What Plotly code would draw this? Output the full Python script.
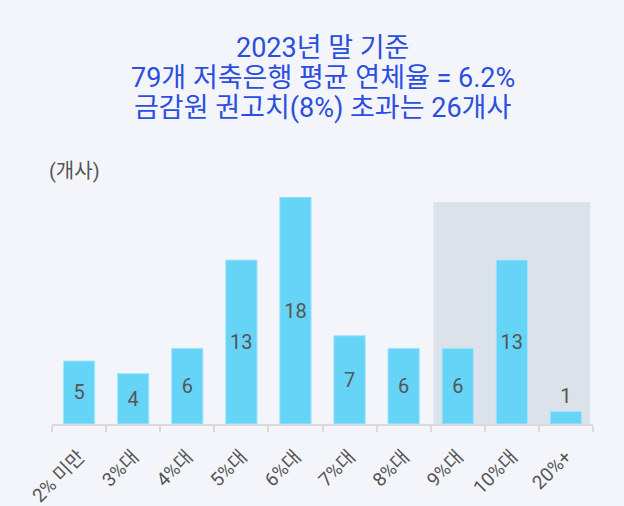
import plotly.graph_objects as go

# 연체율 구간별 저축은행 수
구간 = ["2% 미만", "3%대", "4%대", "5%대", "6%대", "7%대", "8%대", "9%대", "10%대", "20%+"]
은행수 = [5, 4, 6, 13, 18, 7, 6, 6, 13, 1]

# 제목 줄
제목 = ["2023년 말 기준", "79개 저축은행 평균 연체율 = 6.2%", "금감원 권고치(8%) 초과는 26개사"]

글꼴 = "Roboto, Noto Sans CJK KR"

fig = go.Figure()

fig.add_trace(go.Bar(
    x=구간,
    y=은행수,
    marker=dict(color="#66d4f7", line=dict(color="#a8e6fb", width=1)),
    width=0.58,
    text=[str(v) for v in 은행수],
    textposition=["inside"] * 9 + ["outside"],
    insidetextanchor="middle",
    textfont=dict(size=20, color="#555555", family=글꼴),
    cliponaxis=False,
    hoverinfo="skip",
))

# 권고치(8%) 초과 구간 음영
fig.add_shape(
    type="rect", xref="x", yref="y",
    x0=6.55, x1=9.45, y0=0, y1=17.6,
    fillcolor="#dce2ea", line_width=0, layer="below",
)

# 제목 (줄 간격을 맞추려고 줄마다 주석으로)
주석 = []
for i, 줄 in enumerate(제목):
    주석.append(dict(
        text=줄, xref="paper", yref="paper",
        x=0.5, y=(424 - (48 + 30 * i)) / 227, xanchor="center", yanchor="middle",
        showarrow=False, font=dict(size=27, color="#2a4fe0", family=글꼴),
    ))
주석.append(dict(
    text="(개사)", xref="paper", yref="paper",
    x=0, y=(424 - 171) / 227, xanchor="left", yanchor="middle", xshift=-5,
    showarrow=False, font=dict(size=20, color="#555555", family=글꼴),
))

fig.update_layout(
    width=624, height=506,
    paper_bgcolor="#f4f5fa",
    plot_bgcolor="#f4f5fa",
    margin=dict(l=52, r=31, t=197, b=82),
    showlegend=False,
    font=dict(family=글꼴, color="#555555"),
    xaxis=dict(
        showgrid=False, automargin=False,
        showline=True, linecolor="#d9d9d9", linewidth=2,
        ticks="outside", tickson="boundaries", ticklen=6, tickcolor="#d9d9d9", tickwidth=2,
        tickangle=-45,
        ticklabelstandoff=12,
        tickfont=dict(size=19, color="#555555"),
    ),
    yaxis=dict(
        range=[0, 18],
        showgrid=False, zeroline=False,
        showticklabels=False,
    ),
    annotations=주석,
)

fig.write_html(
    "out.html",
    config={"displayModeBar": False},
    post_script="document.body.style.margin='0';document.body.style.background='#f4f5fa';",
)
